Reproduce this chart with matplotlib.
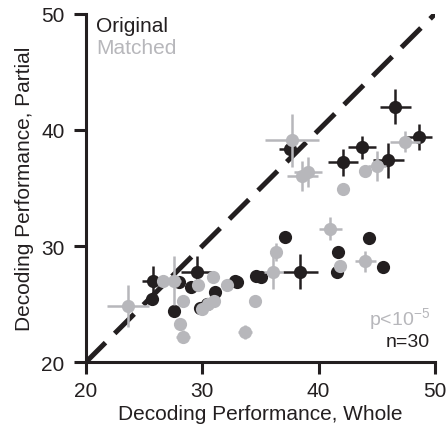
import matplotlib.pyplot as plt

plt.rcParams['font.family'] = ['Liberation Sans', 'DejaVu Sans']

# === DATA ===
# Original decoding performance (whole vs partial) with error bars
orig_x = [46.6, 48.6, 43.7, 42.1, 46.0, 37.5,
          44.3, 37.1, 41.7, 41.6, 45.5, 38.4, 35.0, 34.6, 33.0, 32.8,
          25.7, 25.8, 29.5, 29.8, 30.4, 31.1, 27.6, 29.0, 28.0]
orig_y = [42.0, 39.4, 38.5, 37.2, 37.4, 38.4,
          30.7, 30.8, 29.5, 27.8, 28.2, 27.8, 27.3, 27.4, 26.9, 27.0,
          25.4, 27.0, 27.8, 24.7, 25.0, 26.0, 24.4, 26.5, 26.9]
orig_xerr = [1.3, 1.1, 1.2, 1.3, 1.3, 0.9,
             0, 0, 0, 0, 0, 1.5, 0, 0, 0, 0,
             0, 1.0, 1.3, 0, 0, 0, 0, 0, 0]
orig_yerr = [1.5, 1.1, 1.0, 1.2, 1.5, 0.9,
             0, 0, 0, 0.4, 0, 1.5, 0, 0, 0, 0,
             0, 1.3, 1.3, 0, 0, 0, 0, 0, 0]

# Matched decoding performance
match_x = [37.7, 38.6, 39.1, 44.0, 45.0, 47.4, 42.1,
           41.0, 36.3, 41.8, 44.0, 36.1, 34.5, 33.7,
           23.6, 26.6, 27.6, 30.9, 29.6, 32.1, 30.5, 28.3, 28.1, 28.3,
           30.0, 31.0]
match_y = [39.1, 36.0, 36.4, 36.5, 36.9, 39.0, 34.9,
           31.5, 29.5, 28.3, 28.7, 27.8, 25.3, 22.6,
           24.8, 27.0, 27.0, 27.3, 26.6, 26.6, 25.0, 25.3, 23.3, 22.2,
           24.6, 25.3]
match_xerr = [2.3, 1.3, 1.2, 0, 0.8, 1.3, 0,
              1.0, 0, 0, 0.9, 0.8, 0.4, 0.6,
              1.8, 0, 0.6, 0, 0, 0, 0, 0, 0.5, 0.6,
              0, 0]
match_yerr = [2.3, 1.3, 1.3, 0, 1.3, 0.9, 0,
              1.0, 0.8, 0, 0.9, 1.5, 0.4, 0.6,
              1.8, 0, 2.1, 0, 0, 0, 0, 0, 0.5, 0.6,
              0, 0]

black = '#231f20'
gray = '#b7b7bb'

fig = plt.figure(figsize=(4.48, 4.39), dpi=100)
ax = fig.add_axes([0.192, 0.173, 0.779, 0.793])

# unity line
ax.plot([20, 50], [20, 50], color=black, lw=3.6, dashes=(5.5, 2.6),
        solid_capstyle='butt', dash_capstyle='butt', zorder=1)

ax.errorbar(orig_x, orig_y, xerr=orig_xerr, yerr=orig_yerr, fmt='o',
            color=black, ms=9.5, elinewidth=1.8, capsize=0, mew=0, zorder=2)
ax.errorbar(match_x, match_y, xerr=match_xerr, yerr=match_yerr, fmt='o',
            color=gray, ms=9.5, elinewidth=1.8, capsize=0, mew=0, zorder=3)

ax.set_xlim(20, 50)
ax.set_ylim(20, 50)
ax.set_xticks([20, 30, 40, 50])
ax.set_yticks([20, 30, 40, 50])
for s in ['top', 'right']:
    ax.spines[s].set_visible(False)
for s in ['left', 'bottom']:
    ax.spines[s].set_linewidth(2.2)
    ax.spines[s].set_color(black)
    ax.spines[s].set_capstyle('projecting')
ax.tick_params(direction='out', length=8.5, width=2.2, color=black,
               labelsize=15, labelcolor=black)
ax.tick_params(axis='x', pad=5)
ax.tick_params(axis='y', pad=7)

ax.set_xlabel('Decoding Performance, Whole', fontsize=15, color=black, labelpad=3)
ax.set_ylabel('Decoding Performance, Partial', fontsize=15, color=black, labelpad=5)

ax.text(0.03, 0.967, 'Original', transform=ax.transAxes, fontsize=15,
        color=black, va='center', ha='left')
ax.text(0.03, 0.903, 'Matched', transform=ax.transAxes, fontsize=15,
        color=gray, va='center', ha='left')
ax.text(0.985, 0.125, r'p<10$^{\mathregular{-5}}$', transform=ax.transAxes,
        fontsize=14, color=gray, va='center', ha='right')
ax.text(0.985, 0.06, 'n=30', transform=ax.transAxes, fontsize=14,
        color=black, va='center', ha='right')

fig.savefig('out.png', dpi=100, facecolor='white')
